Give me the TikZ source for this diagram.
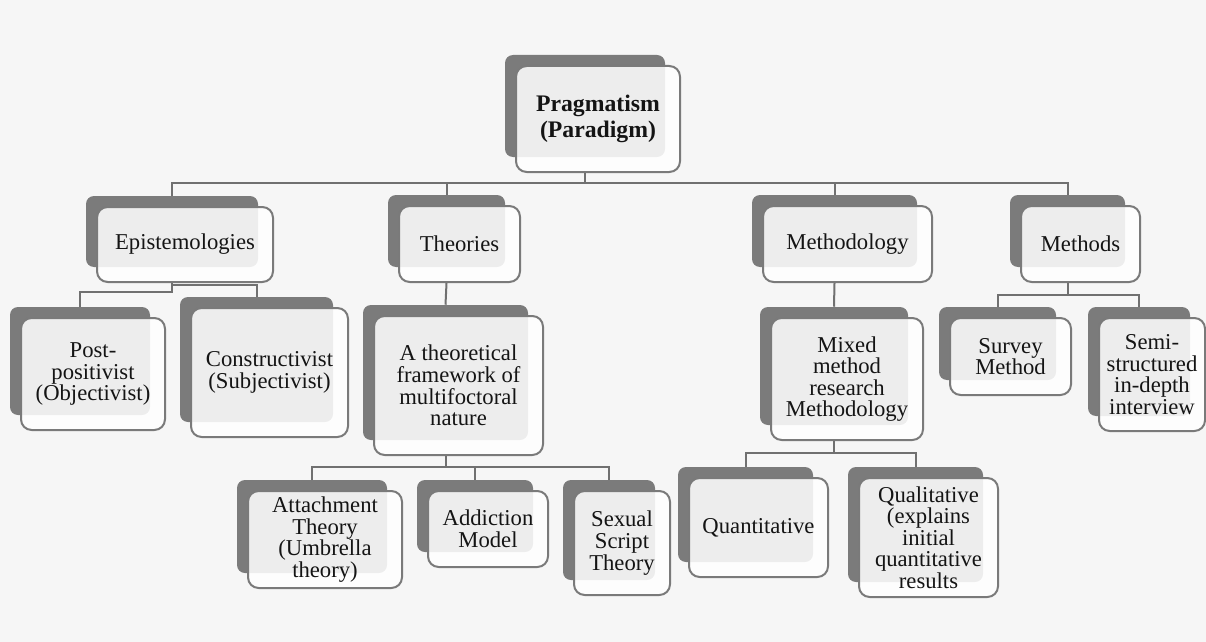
\documentclass[tikz,border=0pt]{standalone}
\usepackage{fontspec}
\setmainfont{Liberation Serif}
\definecolor{bgcol}{HTML}{F6F6F6}
\definecolor{shadowgray}{HTML}{7B7B7B}
\definecolor{edgegray}{HTML}{7A7A7A}
\definecolor{linegray}{HTML}{707070}
\tikzset{
  backbox/.style={fill=shadowgray, draw=none, rounded corners=6pt, inner sep=0pt},
  frontbox/.style={draw=edgegray, line width=1.5pt, fill=white, fill opacity=0.87,
    text opacity=1, rounded corners=8pt, inner sep=0pt, align=center,
    font=\fontsize{17}{16.2}\selectfont, text=black!92},
  headtext/.style={font=\fontsize{17.8}{19}\selectfont\bfseries},
  conn/.style={draw=linegray, line width=1.5pt},
}
% \tbox[style]{name}{x1}{y1}{x2}{y2}{text}: a dark back card at the given corners
% and a lighter front card shifted down and right over it
\newcommand\tbox[7][]{%
  \pgfmathsetmacro\cardbx{(#3+#5)/2}\pgfmathsetmacro\cardby{(#4+#6)/2}%
  \pgfmathsetmacro\cardbw{(#5-#3)*0.75}\pgfmathsetmacro\cardbh{(#6-#4)*0.75}%
  \node[backbox, minimum width=\cardbw pt, minimum height=\cardbh pt] (#2B) at (\cardbx,\cardby) {};
  \pgfmathsetmacro\cardfx{(#3+#5)/2+13}\pgfmathsetmacro\cardfy{(#4+#6)/2+13}%
  \pgfmathsetmacro\cardfw{(#5-#3+4)*0.75}\pgfmathsetmacro\cardfh{(#6-#4+4)*0.75}%
  \node[frontbox, #1, minimum width=\cardfw pt, minimum height=\cardfh pt] (#2) at (\cardfx,\cardfy) {#7};
}
\begin{document}
\begin{tikzpicture}[x=0.75pt, y=-0.75pt]
  \fill[bgcol] (0,0) rectangle (1206,642);
  \useasboundingbox (0,0) rectangle (1206,642);

  % bus levels
  \coordinate (busMain) at (0,183);
  \coordinate (busPost) at (0,292);
  \coordinate (busCons) at (0,285);
  \coordinate (busMeth) at (0,295);
  \coordinate (busFrame) at (0,467);
  \coordinate (busMixed) at (0,453);

  % cards
  \tbox[headtext]{prag}{505}{55}{665}{157}{Pragmatism\\(Paradigm)}
  \tbox{epis}{86}{196}{258}{267}{Epistemologies}
  \tbox{theo}{388}{195}{505}{267}{Theories}
  \tbox{meth}{752}{195}{917}{267}{Methodology}
  \tbox{mthd}{1010}{195}{1125}{267}{Methods}

  \tbox{post}{10}{307}{150}{415}{Post-\\positivist\\(Objectivist)}
  \tbox{cons}{180}{297}{333}{422}{Constructivist\\(Subjectivist)}
  \tbox{frame}{363}{305}{528}{440}{A theoretical\\framework of\\multifoctoral\\nature}
  \tbox{mixed}{760}{307}{908}{425}{Mixed\\method\\research\\Methodology}
  \tbox{survey}{939}{307}{1056}{380}{Survey\\Method}
  \tbox{semi}{1088}{307}{1190}{416}{Semi-\\structured\\in-depth\\interview}

  \tbox{attach}{237}{480}{387}{573}{Attachment\\Theory\\(Umbrella\\theory)}
  \tbox{addict}{417}{480}{533}{552}{Addiction\\Model}
  \tbox{sexual}{563}{480}{655}{580}{Sexual\\Script\\Theory}
  \tbox{quant}{678}{467}{813}{562}{Quantitative}
  \tbox{qual}{848}{467}{983}{582}{Qualitative\\(explains\\initial\\quantitative\\results}

  % connectors
  \draw[conn] (prag.south -| pragB.center) -- (pragB.center |- busMain) -| (episB.north);
  \draw[conn] (prag.south -| pragB.center) -- (pragB.center |- busMain) -| (theoB.north);
  \draw[conn] (prag.south -| pragB.center) -- (pragB.center |- busMain) -| (methB.north);
  \draw[conn] (prag.south -| pragB.center) -- (pragB.center |- busMain) -| (mthdB.north);

  \draw[conn] (epis.south -| episB.center) -- (episB.center |- busPost) -| (postB.north);
  \draw[conn] (epis.south -| episB.center) -- (episB.center |- busCons) -| (consB.north);

  \draw[conn] (theo.south -| theoB.center) -- (frameB.north);
  \draw[conn] (meth.south -| methB.center) -- (mixedB.north);

  \draw[conn] (mthd.south -| mthdB.center) -- (mthdB.center |- busMeth) -| (surveyB.north);
  \draw[conn] (mthd.south -| mthdB.center) -- (mthdB.center |- busMeth) -| (semiB.north);

  \draw[conn] (frame.south -| frameB.center) -- (frameB.center |- busFrame) -| (attachB.north);
  \draw[conn] (frame.south -| frameB.center) -- (frameB.center |- busFrame) -| (addictB.north);
  \draw[conn] (frame.south -| frameB.center) -- (frameB.center |- busFrame) -| (sexualB.north);

  \draw[conn] (mixed.south -| mixedB.center) -- (mixedB.center |- busMixed) -| (quantB.north);
  \draw[conn] (mixed.south -| mixedB.center) -- (mixedB.center |- busMixed) -| (qualB.north);
\end{tikzpicture}
\end{document}
